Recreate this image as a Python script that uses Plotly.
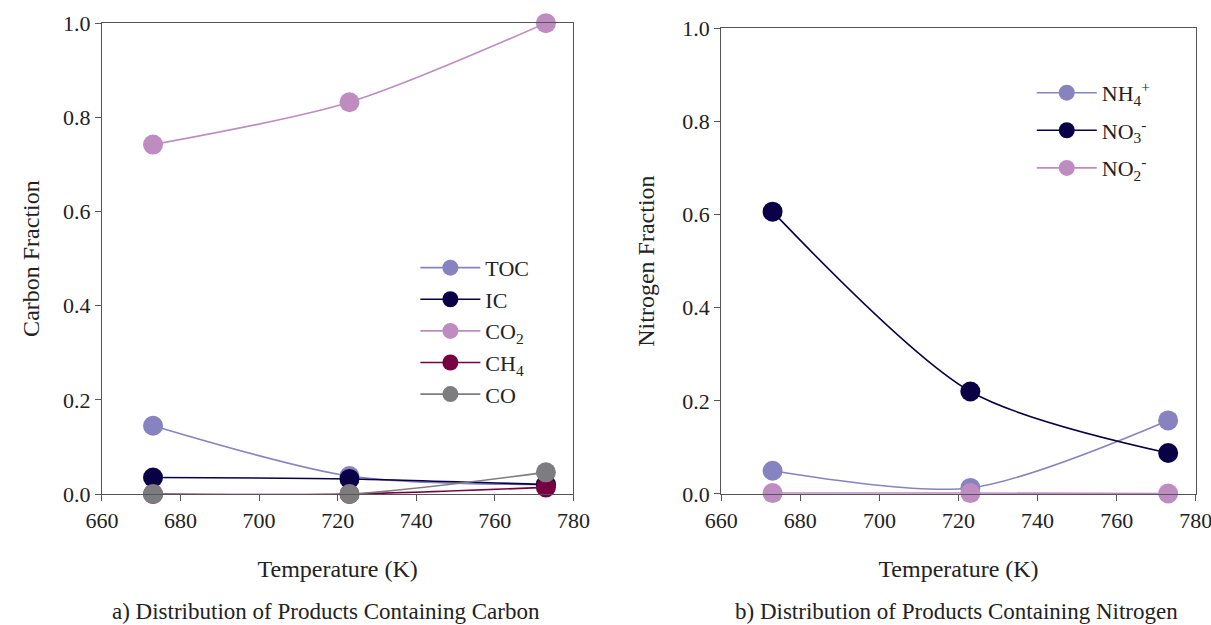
import plotly.graph_objects as go

temps = [673, 723, 773]

toc = [0.145, 0.038, 0.020]
ic = [0.035, 0.032, 0.020]
co2 = [0.742, 0.832, 1.000]
ch4 = [0.0, 0.0, 0.014]
co = [0.0, 0.0, 0.046]

nh4 = [0.050, 0.013, 0.158]
no3 = [0.606, 0.220, 0.088]
no2 = [0.002, 0.002, 0.001]

x_ticks = [660, 680, 700, 720, 740, 760, 780]
y_ticks = [0.0, 0.2, 0.4, 0.6, 0.8, 1.0]

C_TOC = "#8683C0"
C_IC = "#0A0045"
C_CO2 = "#BE8CC0"
C_CH4 = "#770042"
C_CO = "#7D7D80"

FONT = "Liberation Serif"
TXT = "#222222"

fig = go.Figure()

def add(x, y, name, color, xa, ya, legend):
    fig.add_trace(go.Scatter(
        x=x, y=y, name=name, mode="lines+markers", legendgroup=name,
        line=dict(color=color, width=1.6, shape="spline", smoothing=0.8),
        marker=dict(color=color, size=20, line=dict(width=0)),
        xaxis=xa, yaxis=ya, legend=legend, cliponaxis=False,
    ))

add(temps, toc, "TOC", C_TOC, "x", "y", "legend")
add(temps, ic, "IC", C_IC, "x", "y", "legend")
add(temps, co2, "CO<sub>2</sub>", C_CO2, "x", "y", "legend")
add(temps, ch4, "CH<sub>4</sub>", C_CH4, "x", "y", "legend")
add(temps, co, "CO", C_CO, "x", "y", "legend")

add(temps, nh4, "NH<sub>4</sub><sup>+</sup>", C_TOC, "x2", "y2", "legend2")
add(temps, no3, "NO<sub>3</sub><sup>-</sup>", C_IC, "x2", "y2", "legend2")
add(temps, no2, "NO<sub>2</sub><sup>-</sup>", C_CO2, "x2", "y2", "legend2")

axis_common = dict(
    showgrid=False, zeroline=False, showline=True, linecolor="#555555",
    linewidth=1.2, mirror=True, ticks="outside", ticklen=6, automargin=False,
    ticklabeloverflow="allow",
    tickcolor="#555555", tickfont=dict(family=FONT, size=22, color=TXT),
)
title_font = dict(family=FONT, size=24, color=TXT)

fig.update_layout(
    width=1211, height=625,
    margin=dict(l=0, r=0, t=0, b=0, autoexpand=False),
    paper_bgcolor="white", plot_bgcolor="white",
    font=dict(family=FONT, color=TXT),
    xaxis=dict(domain=[0.0842, 0.4735], range=[660, 780], tickvals=x_ticks,
               title=dict(text="Temperature (K)", font=title_font, standoff=28),
               anchor="y", **axis_common),
    yaxis=dict(domain=[0.2096, 0.963], range=[0, 1], tickvals=y_ticks, tickformat=".1f",
               title=dict(text="Carbon Fraction", font=title_font, standoff=16),
               anchor="x", **axis_common),
    xaxis2=dict(domain=[0.5955, 0.9875], range=[660, 780], tickvals=x_ticks,
                title=dict(text="Temperature (K)", font=title_font, standoff=28),
                anchor="y2", **axis_common),
    yaxis2=dict(domain=[0.2096, 0.955], range=[0, 1], tickvals=y_ticks, tickformat=".1f",
                title=dict(text="Nitrogen Fraction", font=title_font, standoff=20),
                anchor="x2", **axis_common),
    legend=dict(x=0.343, y=0.605, xanchor="left", yanchor="top",
                bgcolor="rgba(0,0,0,0)", font=dict(family=FONT, size=22, color=TXT),
                itemsizing="trace", itemwidth=60, tracegroupgap=0),
    legend2=dict(x=0.852, y=0.885, xanchor="left", yanchor="top",
                 bgcolor="rgba(0,0,0,0)", font=dict(family=FONT, size=22, color=TXT),
                 itemsizing="trace", itemwidth=60, tracegroupgap=6),
    showlegend=True,
    annotations=[
        dict(text="a) Distribution of Products Containing Carbon", x=0.2695, y=1 - 611 / 625,
             xref="paper", yref="paper", xanchor="center", yanchor="middle", showarrow=False,
             font=dict(family=FONT, size=23, color=TXT)),
        dict(text="b) Distribution of Products Containing Nitrogen", x=0.7895, y=1 - 611 / 625,
             xref="paper", yref="paper", xanchor="center", yanchor="middle", showarrow=False,
             font=dict(family=FONT, size=23, color=TXT)),
    ],
)

fig.write_html("out.html")
